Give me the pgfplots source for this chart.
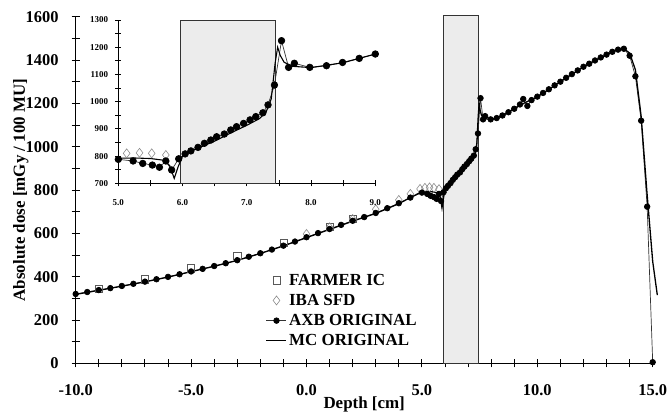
\documentclass[border=0pt]{standalone}
\usepackage{fontspec}
\setmainfont{Liberation Serif}
\usepackage{pgfplots}
\pgfplotsset{compat=1.18}

\newcommand{\farmer}{(-9,343) (-7,388) (-5,439) (-3,497) (-1,558) (1,630) (2,666)}
\newcommand{\iba}{(0,597) (1,628) (2,666) (3,711) (4,754) (4.5,782) (4.92,805) (5.13,810) (5.33,812) (5.52,810) (5.74,804)}
\newcommand{\axb}{(-10,320) (-9.5,329) (-9,338) (-8.5,347) (-8,357) (-7.5,367) (-7,377) (-6.5,388) (-6,399) (-5.5,411) (-5,424) (-4.5,436) (-4,449) (-3.5,462) (-3,476) (-2.5,492) (-2,508) (-1.5,525) (-1,543) (-0.5,562) (0,582) (0.5,601) (1,620) (1.5,639) (2,658) (2.5,675) (3,694) (3.5,716) (4,739) (4.5,765) (5,788) (5.23,782) (5.38,773) (5.53,767) (5.64,759) (5.74,782) (5.83,749) (5.94,790) (6.04,808) (6.13,819) (6.24,832) (6.34,847) (6.44,859) (6.53,871) (6.65,881) (6.75,896) (6.84,908) (6.95,920) (7.05,933) (7.14,945) (7.25,959) (7.33,988) (7.43,1061) (7.54,1224) (7.65,1126) (7.74,1141) (7.98,1126) (8.24,1132) (8.49,1144) (8.75,1159) (9.0,1175) (9.25,1195) (9.39,1220) (9.57,1188) (9.75,1215) (10,1231) (10.25,1248) (10.5,1265) (10.75,1283) (11,1300) (11.25,1318) (11.5,1335) (11.75,1352) (12,1369) (12.25,1383) (12.5,1398) (12.75,1412) (13,1425) (13.25,1438) (13.5,1448) (13.75,1452) (14,1420) (14.25,1325) (14.5,1120) (14.76,723) (15.0,5)}
\newcommand{\mc}{(-10,318) (-9,337) (-8,356) (-7,376) (-6,398) (-5,423) (-4,448) (-3,475) (-2,507) (-1,542) (0,580) (1,618) (2,656) (3,692) (3.5,714) (4,737) (4.5,765) (5,792) (5.25,793) (5.5,791) (5.7,785) (5.8,765) (5.87,718) (5.93,760) (6.0,800) (6.1,815) (6.3,835) (6.5,855) (6.75,885) (7.0,913) (7.2,938) (7.3,962) (7.38,1010) (7.44,1140) (7.48,1200) (7.52,1170) (7.58,1145) (7.7,1130) (8.0,1125) (8.5,1143) (9.0,1175) (9.5,1205) (10,1230) (10.5,1264) (11,1300) (11.5,1334) (12,1368) (12.5,1398) (13,1425) (13.5,1448) (13.75,1452) (14,1432) (14.25,1355) (14.5,1140) (14.75,790) (15.0,470) (15.2,315)}

\begin{document}
\begin{tikzpicture}
\path[use as bounding box] (-75.7bp,-49.7bp) rectangle (592.3bp,363.3bp);

% main plot
\begin{axis}[
  at={(0,0)}, anchor=south west,
  scale only axis, width=577bp, height=346.6bp,
  xmin=-10, xmax=15, ymin=0, ymax=1600,
  axis lines*=left, clip=false,
  axis line style={line width=1pt},
  xtick={-10,-5,...,15}, minor xtick={-9,...,14},
  ytick={0,200,...,1600}, minor ytick={100,300,...,1500},
  tick align=center, major tick length=8bp, minor tick length=8bp,
  every tick/.style={black, line width=0.9pt},
  xticklabel={\pgfmathprintnumber[fixed,fixed zerofill,precision=1]{\tick}},
  /pgf/number format/1000 sep={},
  /pgf/number format/assume math mode=true,
  tick label style={font=\bfseries\fontsize{16.5}{18}\selectfont},
  xticklabel style={anchor=center, yshift=-23bp},
  yticklabel style={anchor=east, inner sep=0pt, xshift=-13bp},
  xlabel={Depth [cm]}, ylabel={Absolute dose [mGy / 100 MU]},
  label style={font=\bfseries\fontsize{17}{19}\selectfont},
  xlabel style={at={(axis description cs:0.5,-0.118)}, anchor=center},
  ylabel style={at={(axis description cs:-0.095,0.5)}, anchor=center},
  legend style={at={(0.324,0.27)}, anchor=north west, draw=none, fill=none,
    font=\bfseries\fontsize{17}{18}\selectfont, row sep=3.5bp},
  legend image code/.code={\draw[mark repeat=2, mark phase=2] plot coordinates {(0bp,0bp) (10bp,0bp) (20bp,0bp)};},
  legend cell align=left,
]
\fill[gray!15] (axis cs:5.95,0) rectangle (axis cs:7.45,1605);
\draw[black!80, line width=0.9pt] (axis cs:5.95,0) rectangle (axis cs:7.45,1605);

\addplot[only marks, mark=square, mark size=3.6bp, mark options={draw=black!65, line width=0.6pt}] coordinates {\farmer};
\addlegendentry{FARMER IC}
\addplot[only marks, mark=diamond, mark size=4.5bp, mark options={draw=black!45, line width=0.6pt}] coordinates {\iba};
\addlegendentry{IBA SFD}
\addplot[black!80, line width=0.7pt, mark=*, mark size=2.8bp, mark options={fill=black, draw=black}] coordinates {\axb};
\addlegendentry{AXB ORIGINAL}
\addplot[black, line width=1.3pt] coordinates {\mc};
\addlegendentry{MC ORIGINAL}
\end{axis}

% inset
\begin{axis}[
  at={(42.6bp,180bp)}, anchor=south west,
  scale only axis, width=257bp, height=163.3bp,
  xmin=5, xmax=9, ymin=700, ymax=1300,
  axis lines*=left,
  axis line style={line width=0.9pt},
  xtick={5,6,...,9}, minor xtick={5.5,6.5,...,8.5},
  ytick={700,800,...,1300}, minor ytick={750,850,...,1250},
  tick align=center, major tick length=6bp, minor tick length=6bp,
  every tick/.style={black, line width=0.8pt},
  xticklabel={\pgfmathprintnumber[fixed,fixed zerofill,precision=1]{\tick}},
  /pgf/number format/1000 sep={},
  /pgf/number format/assume math mode=true,
  tick label style={font=\bfseries\fontsize{9}{10}\selectfont},
  xticklabel style={anchor=center, yshift=-16bp},
  yticklabel style={anchor=east, inner sep=0pt, xshift=-7bp},
]
\fill[gray!15] (axis cs:5.96,700) rectangle (axis cs:7.45,1300);
\draw[black!80, line width=0.9pt] (axis cs:5.96,700) rectangle (axis cs:7.45,1300);

\addplot[only marks, mark=diamond, mark size=4.5bp, mark options={draw=black!45, line width=0.6pt}] coordinates {\iba};
\addplot[black!80, line width=0.7pt, mark=*, mark size=3.3bp, mark options={fill=black, draw=black}] coordinates {\axb};
\addplot[black, line width=1.1pt] coordinates {\mc};
\end{axis}
\end{tikzpicture}
\end{document}
